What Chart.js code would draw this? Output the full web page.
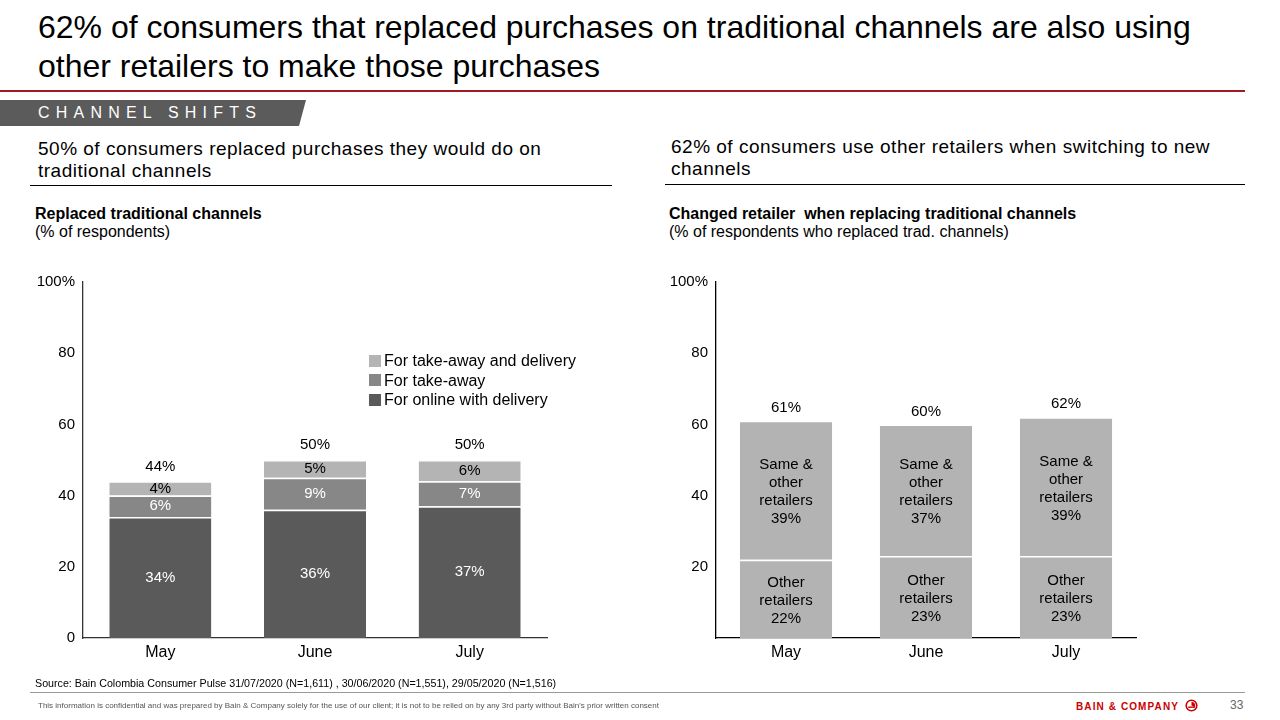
<!DOCTYPE html>
<html>
<head>
<meta charset="utf-8">
<script src="https://cdn.jsdelivr.net/npm/chart.js@4.4.1/dist/chart.umd.min.js"></script>
<style>
  html,body{margin:0;padding:0;background:#fff;}
  body{width:1280px;height:720px;position:relative;overflow:hidden;font-family:"Liberation Sans",Arial,sans-serif;color:#000;}
  .abs{position:absolute;white-space:nowrap;}
  #title{left:38px;top:8px;font-size:32px;line-height:39px;}
  #redline{left:0;top:90px;width:1245px;height:2px;background:#9e1b20;}
  #strip{left:0;top:100px;width:306px;height:26px;background:#5b5b5b;clip-path:polygon(0 0,100% 0,calc(100% - 7px) 100%,0 100%);}
  #stripText{left:38px;top:103px;font-size:16px;letter-spacing:6.2px;color:#fff;line-height:20px;}
  .sub{font-size:19px;line-height:22px;letter-spacing:0.5px;}
  .rule{height:1px;background:#000;}
  .ctitle{font-size:16px;line-height:18px;}
  .ctitle b{font-weight:bold;}
  canvas{position:absolute;}
  #legend{left:369px;top:351px;font-size:16px;line-height:19.5px;}
  #legend div{display:flex;align-items:center;}
  #legend span.sw{display:inline-block;width:12px;height:12px;margin-right:3px;}
  #source{left:35px;top:677px;font-size:10.7px;}
  #footline{left:30px;top:692px;width:1215px;height:1px;background:#9a9a9a;}
  #conf{left:38px;top:701px;font-size:8px;color:#555;}
  #bain{left:1076px;top:699px;font-size:10px;font-weight:bold;color:#cc0000;letter-spacing:1.1px;}
  #page{left:1230px;top:698px;font-size:12px;color:#666;}
</style>
</head>
<body>
<div id="title" class="abs">62% of consumers that replaced purchases on traditional channels are also using<br>other retailers to make those purchases</div>
<div id="redline" class="abs"></div>
<div id="strip" class="abs"></div>
<div id="stripText" class="abs">CHANNEL SHIFTS</div>

<div class="abs sub" style="left:38px;top:138px;">50% of consumers replaced purchases they would do on<br>traditional channels</div>
<div class="abs rule" style="left:30px;top:185px;width:582px;"></div>
<div class="abs ctitle" style="left:35px;top:205px;"><b>Replaced traditional channels</b><br>(% of respondents)</div>

<div class="abs sub" style="left:671px;top:136px;">62% of consumers use other retailers when switching to new<br>channels</div>
<div class="abs rule" style="left:665px;top:184px;width:580px;"></div>
<div class="abs ctitle" style="left:669px;top:205px;"><b>Changed retailer&nbsp; when replacing traditional channels</b><br>(% of respondents who replaced trad. channels)</div>

<canvas id="c1" style="left:0;top:260px;width:640px;height:420px;"></canvas>
<canvas id="c2" style="left:640px;top:260px;width:640px;height:420px;"></canvas>
<div id="legend" class="abs"></div>

<div id="source" class="abs">Source: Bain Colombia Consumer Pulse 31/07/2020 (N=1,611) , 30/06/2020 (N=1,551), 29/05/2020 (N=1,516)</div>
<div id="footline" class="abs"></div>
<div id="conf" class="abs">This information is confidential and was prepared by Bain &amp; Company solely for the use of our client; it is not to be relied on by any 3rd party without Bain's prior written consent</div>
<div id="bain" class="abs">BAIN &amp; COMPANY
  <svg width="13" height="13" viewBox="0 0 13 13" style="vertical-align:-2px;margin-left:2px;"><circle cx="6.5" cy="6.5" r="5.3" fill="none" stroke="#cc0000" stroke-width="1.6"/><path d="M6.5 6.5 L6.5 2.8 A3.7 3.7 0 0 1 9.8 8.2 Z" fill="#cc0000"/><path d="M3.2 8.2 L9.8 8.2" stroke="#cc0000" stroke-width="1.4"/></svg>
</div>
<div id="page" class="abs">33</div>

<script>
// ---------- data ----------
const months = ['May', 'June', 'July'];
// left chart: replaced traditional channels (% of respondents)
const seriesNamesLeft = ['For online with delivery', 'For take-away', 'For take-away and delivery'];
const onlineWithDelivery = [34, 36, 37];
const takeAway = [6, 9, 7];
const takeAwayAndDelivery = [4, 5, 6];
// right chart: changed retailer (% of respondents who replaced trad. channels)
const seriesNamesRight = ['Other retailers', 'Same & other retailers'];
const otherRetailers = [22, 23, 23];
const sameAndOtherRetailers = [39, 37, 39];
const segLinesRight = [['Other', 'retailers'], ['Same &', 'other', 'retailers']];
const yTicks = [0, 20, 40, 60, 80, 100];

// ---------- styles ----------
const FONT = '"Liberation Sans", Arial, sans-serif';
const colorsLeft = ['#5a5a5a', '#878787', '#b4b4b4'];
const labelColorsLeft = ['#ffffff', '#ffffff', '#000000'];
const colorRight = '#b3b3b3';

// legend (HTML, top entry = top segment)
const legendEl = document.getElementById('legend');
[2, 1, 0].forEach(i => {
  const d = document.createElement('div');
  d.innerHTML = '<span class="sw" style="background:' + colorsLeft[i] + '"></span>' + seriesNamesLeft[i];
  legendEl.appendChild(d);
});

// plugin that writes segment labels and totals
const labelPlugin = {
  id: 'segLabels',
  afterDatasetsDraw(chart, args, opts) {
    const ctx = chart.ctx;
    ctx.save();
    ctx.textAlign = 'center';
    ctx.textBaseline = 'middle';
    const nds = chart.data.datasets.length;
    chart.data.datasets.forEach((ds, di) => {
      const meta = chart.getDatasetMeta(di);
      meta.data.forEach((bar, i) => {
        const cy = (bar.y + bar.base) / 2;
        ctx.fillStyle = ds.labelColor;
        ctx.font = opts.size + 'px ' + FONT;
        const lines = (ds.labelLines ? ds.labelLines.slice() : []);
        lines.push(ds.data[i] + '%');
        const lh = opts.lineHeight;
        const y0 = cy - (lines.length - 1) * lh / 2 + (opts.shift || 0);
        lines.forEach((t, k) => ctx.fillText(t, bar.x, y0 + k * lh));
      });
    });
    // totals
    const topMeta = chart.getDatasetMeta(nds - 1);
    topMeta.data.forEach((bar, i) => {
      let tot = 0;
      chart.data.datasets.forEach(ds => tot += ds.data[i]);
      ctx.fillStyle = '#000';
      ctx.font = opts.size + 'px ' + FONT;
      ctx.fillText(tot + '%', bar.x, bar.y - opts.totalOffset);
    });
    ctx.restore();
  }
};

function makeOptions(yWidth, padRight, showZero, axisColor, labelOpts) {
  return {
    responsive: false,
    animation: false,
    devicePixelRatio: 1,
    layout: { padding: { top: 22, right: padRight, left: 0, bottom: 0 } },
    plugins: {
      legend: { display: false },
      tooltip: { enabled: false },
      segLabels: labelOpts
    },
    scales: {
      x: {
        stacked: true,
        grid: { display: false, drawTicks: false },
        border: { display: true, color: axisColor, width: 1.3 },
        ticks: { color: '#000', font: { family: FONT, size: 16 }, padding: 5 },
        afterFit(s) { s.height = 42; }
      },
      y: {
        stacked: true,
        min: 0, max: 100,
        afterBuildTicks(s) { s.ticks = yTicks.map(v => ({ value: v })); },
        grid: { display: false, drawTicks: false },
        border: { display: true, color: axisColor, width: 1.3 },
        ticks: {
          color: '#000', font: { family: FONT, size: 15 }, padding: 8,
          callback(v) { if (v === 100) return '100%'; if (v === 0 && !showZero) return ''; return String(v); }
        },
        afterFit(s) { s.width = yWidth; }
      }
    }
  };
}

const sep = { top: 1.5, bottom: 0, left: 0, right: 0 };

new Chart(document.getElementById('c1'), {
  type: 'bar',
  data: {
    labels: months,
    datasets: [
      { label: seriesNamesLeft[0], data: onlineWithDelivery, backgroundColor: colorsLeft[0], labelColor: labelColorsLeft[0] },
      { label: seriesNamesLeft[1], data: takeAway, backgroundColor: colorsLeft[1], labelColor: labelColorsLeft[1] },
      { label: seriesNamesLeft[2], data: takeAwayAndDelivery, backgroundColor: colorsLeft[2], labelColor: labelColorsLeft[2] }
    ].map(d => Object.assign(d, { borderColor: '#fff', borderWidth: sep, borderSkipped: false, categoryPercentage: 1, barPercentage: 0.66 }))
  },
  options: makeOptions(83, 93, true, '#333', { size: 15, lineHeight: 17, totalOffset: 15 }),
  plugins: [labelPlugin]
});

new Chart(document.getElementById('c2'), {
  type: 'bar',
  data: {
    labels: months,
    datasets: [
      { label: seriesNamesRight[0], data: otherRetailers, labelLines: segLinesRight[0] },
      { label: seriesNamesRight[1], data: sameAndOtherRetailers, labelLines: segLinesRight[1] }
    ].map(d => Object.assign(d, { backgroundColor: colorRight, labelColor: '#000', borderColor: '#fff', borderWidth: sep, borderSkipped: false, categoryPercentage: 1, barPercentage: 0.66 }))
  },
  options: makeOptions(76, 144, false, '#000', { size: 15, lineHeight: 18, totalOffset: 13, shift: 2 }),
  plugins: [labelPlugin]
});
</script>
</body>
</html>
